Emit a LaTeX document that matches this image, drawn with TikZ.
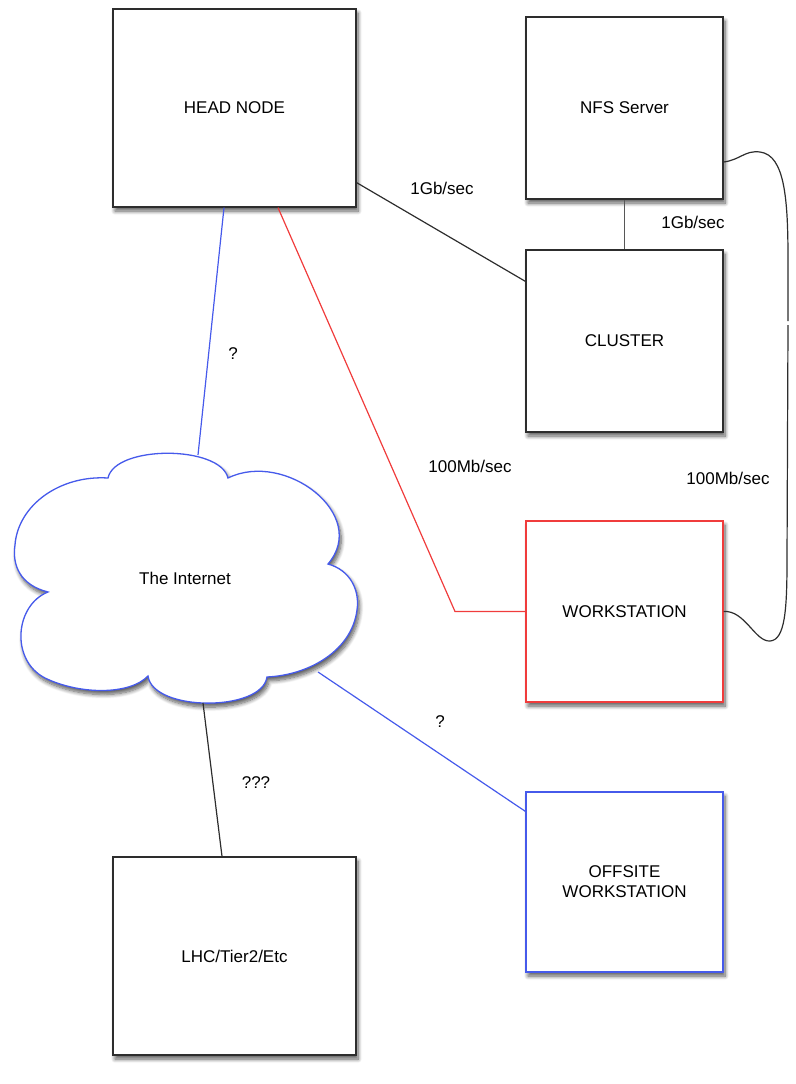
\documentclass[tikz,border=0pt]{standalone}
\usepackage{fontspec}
\setmainfont{Liberation Sans}
\usetikzlibrary{shadows.blur,calc}
\definecolor{lnblue}{RGB}{70,90,235}
\definecolor{lnred}{RGB}{240,60,60}
\definecolor{lnblack}{RGB}{45,45,45}
\begin{document}
\begin{tikzpicture}[x=1pt,y=-1pt,
  every node/.style={font=\fontsize{17}{20}\selectfont},
  shad/.style={blur shadow={shadow xshift=2pt, shadow yshift=-4pt, shadow blur steps=8, shadow opacity=65, shadow blur radius=4pt}},
  box/.style={draw=lnblack, line width=1.3pt, fill=white, inner sep=0pt, align=center, shad},
  bigbox/.style={box, minimum width=243pt, minimum height=198pt},
  smallbox/.style={box, minimum width=197pt, minimum height=182pt},
  conn/.style={line width=1.2pt},
  lbl/.style={inner sep=0pt}]
\useasboundingbox (0,0) rectangle (795,1084);

% cloud
\path[draw=lnblue, line width=1.3pt, fill=white, shad]
  (48,592) .. controls (20,585) and (12,565) .. (15,545)
  .. controls (18,505) and (60,475) .. (108,478)
  .. controls (115,445) and (220,445) .. (228,478)
  .. controls (285,450) and (370,515) .. (328,564)
  .. controls (350,570) and (360,590) .. (357,610)
  .. controls (352,650) and (310,675) .. (267,677)
  .. controls (262,712) and (153,712) .. (148,676)
  .. controls (130,695) and (80,695) .. (45,678)
  .. controls (10,660) and (15,605) .. (48,592) -- cycle;
\node (inet) at (185,578) {The Internet};
\coordinate (ctop) at (198,455);
\coordinate (cright) at (318,672);
\coordinate (cbot) at (203,703);

% boxes
\node[bigbox] (head) at (234.5,108) {HEAD NODE};
\node[smallbox] (nfs) at (624.5,108) {NFS Server};
\node[smallbox] (cluster) at (624.5,341) {CLUSTER};
\node[smallbox, draw=lnred, minimum height=181pt] (ws) at (624.5,611.5) {WORKSTATION};
\node[smallbox, draw=lnblue, minimum height=180pt] (off) at (624.5,882) {OFFSITE\\WORKSTATION};
\node[bigbox] (lhc) at (234.5,956) {LHC/Tier2/Etc};

% connectors
\draw[conn, lnblack] ($(head.south east)+(0,-25)$) -- ($(cluster.north west)+(0,32)$);
\draw[conn, lnblack!80] (nfs.south) -- (cluster.north);
\draw[conn, lnblue] ($(head.south)+(-10.5,0)$) -- (ctop);
\coordinate (rbend) at (455,611.5);
\draw[conn, lnred] ($(head.south)+(43.5,0)$) -- (rbend) -- (ws.west);
\coordinate (gapa) at (788,321);
\coordinate (gapb) at (788,325);
\draw[conn, lnblack] ($(nfs.east)+(0,54)$) .. controls (740,160) and (745,150) .. (760,152)
  .. controls (785,155) and (788,200) .. (788,260) -- (gapa);
\draw[conn, lnblack] (gapb) -- (787,560) .. controls (787,610) and (785,640) .. (770,641)
  .. controls (755,642) and (745,610) .. (ws.east);
\draw[conn, lnblue] (cright) -- ($(off.north west)+(0,20)$);
\draw[conn, lnblack] (cbot) -- ($(lhc.north)+(-12.5,0)$);

% labels
\node[lbl] (l1) at (442,188) {1Gb/sec};
\node[lbl] (l2) at (693,222) {1Gb/sec};
\node[lbl] (l3) at (470,466) {100Mb/sec};
\node[lbl] (l4) at (728,478) {100Mb/sec};
\node[lbl] (q1) at (233,354) {?};
\node[lbl] (q2) at (440,722) {?};
\node[lbl] (q3) at (256,783) {???};
\end{tikzpicture}
\end{document}
